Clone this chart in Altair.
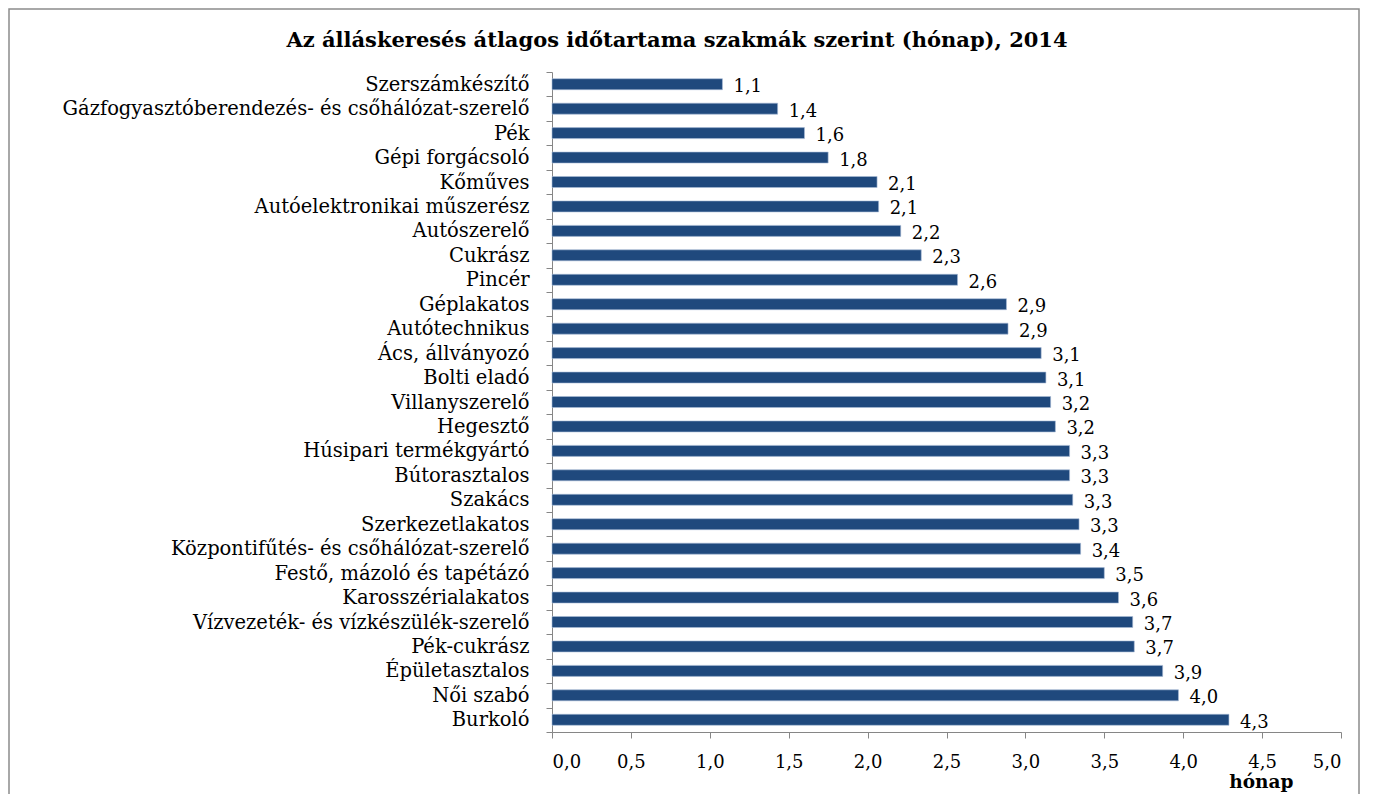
import altair as alt
import pandas as pd

categories = [
    "Szerszámkészítő",
    "Gázfogyasztóberendezés- és csőhálózat-szerelő",
    "Pék",
    "Gépi forgácsoló",
    "Kőműves",
    "Autóelektronikai műszerész",
    "Autószerelő",
    "Cukrász",
    "Pincér",
    "Géplakatos",
    "Autótechnikus",
    "Ács, állványozó",
    "Bolti eladó",
    "Villanyszerelő",
    "Hegesztő",
    "Húsipari termékgyártó",
    "Bútorasztalos",
    "Szakács",
    "Szerkezetlakatos",
    "Központifűtés- és csőhálózat-szerelő",
    "Festő, mázoló és tapétázó",
    "Karosszérialakatos",
    "Vízvezeték- és vízkészülék-szerelő",
    "Pék-cukrász",
    "Épületasztalos",
    "Női szabó",
    "Burkoló",
]
values = [1.08, 1.43, 1.60, 1.75, 2.06, 2.07, 2.21, 2.34, 2.57, 2.88, 2.89,
          3.10, 3.13, 3.16, 3.19, 3.28, 3.28, 3.30, 3.34, 3.35, 3.50, 3.59,
          3.68, 3.69, 3.87, 3.97, 4.29]
labels = ["1,1", "1,4", "1,6", "1,8", "2,1", "2,1", "2,2", "2,3", "2,6", "2,9",
          "2,9", "3,1", "3,1", "3,2", "3,2", "3,3", "3,3", "3,3", "3,3", "3,4",
          "3,5", "3,6", "3,7", "3,7", "3,9", "4,0", "4,3"]
x_ticks = [0, 0.5, 1, 1.5, 2, 2.5, 3, 3.5, 4, 4.5, 5]
title_text = "Az álláskeresés átlagos időtartama szakmák szerint (hónap), 2014"

df = pd.DataFrame({"szakma": categories, "ertek": values, "cimke": labels})
one = pd.DataFrame({"t": [title_text]})

FONT = "DejaVu Serif"
W, H = 789, 660
PAD_L, PAD_T, PAD_R, PAD_B = 544, 64, 21, 62

y_enc = alt.Y("szakma:N", sort=categories,
              scale=alt.Scale(paddingInner=0, paddingOuter=0),
              axis=alt.Axis(title=None, tickBand="extent", tickSize=6,
                            labelPadding=17, labelFontSize=19.5, labelFont=FONT,
                            labelColor="#000000", domainColor="#868686",
                            tickColor="#868686", labelLimit=700))
x_enc = alt.X("ertek:Q",
              scale=alt.Scale(domain=[0, 5], nice=False, zero=True),
              axis=alt.Axis(values=x_ticks, grid=False, tickSize=6,
                            labelExpr="replace(format(datum.value, '.1f'), '.', ',')",
                            labelFontSize=18, labelFont=FONT, labelColor="#000000",
                            labelPadding=15,
                            domainColor="#868686", tickColor="#868686",
                            title="hónap", titleFont=FONT, titleFontSize=18.5,
                            titleFontWeight="bold", titleColor="#000000",
                            titleAnchor="end", titleAlign="right",
                            titleX=741, titleY=49, titleBaseline="middle"))

bars = alt.Chart(df).mark_bar(
    color="#1f497d", height=alt.RelativeBandSize(0.45),
    stroke="#a9bcd6", strokeWidth=0.6
).encode(x=x_enc, y=y_enc)

text = alt.Chart(df).mark_text(
    align="left", baseline="middle", dx=11, dy=3, font=FONT, fontSize=18,
    color="#000000"
).encode(x="ertek:Q", y=alt.Y("szakma:N", sort=categories), text="cimke:N")

frame = alt.Chart(one).mark_rect(
    fill=None, stroke="#8c8c8c", strokeWidth=1.5, clip=False
).encode(x=alt.value(-PAD_L + 1), x2=alt.value(W + PAD_R - 3),
         y=alt.value(-PAD_T + 1), y2=alt.value(H + PAD_B + 10))

title_mark = alt.Chart(one).mark_text(
    font=FONT, fontSize=21, fontWeight="bold", color="#000000",
    align="center", baseline="middle"
).encode(x=alt.value(125), y=alt.value(-31), text="t:N")

chart = alt.layer(frame, bars, text, title_mark).properties(
    width=W, height=H,
    autosize=alt.AutoSizeParams(type="none"),
    padding={"left": PAD_L, "top": PAD_T, "right": PAD_R, "bottom": PAD_B},
    background="white",
).configure_view(stroke=None)

chart.save("out.html", embed_options={"renderer": "svg", "actions": False})
